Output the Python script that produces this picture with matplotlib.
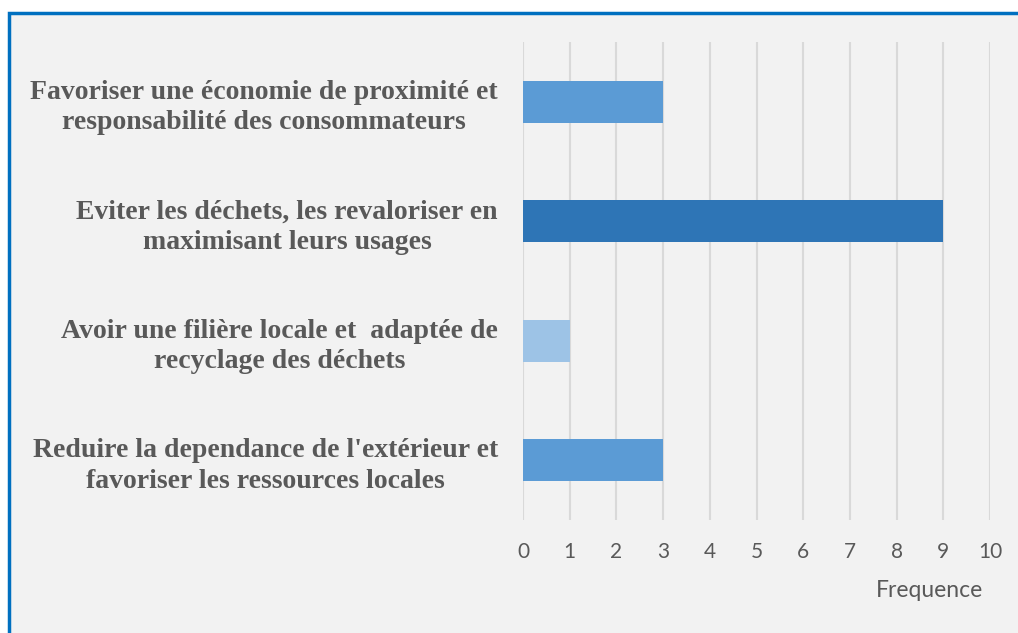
import matplotlib.pyplot as plt
from matplotlib.patches import Rectangle

# data (bottom to top as drawn)
labels = [
    "Reduire la dependance de l'extérieur et\nfavoriser les ressources locales",
    "Avoir une filière locale et  adaptée de\nrecyclage des déchets",
    "Eviter les déchets, les revaloriser en\nmaximisant leurs usages",
    "Favoriser une économie de proximité et\nresponsabilité des consommateurs",
]
values = [3, 1, 9, 3]
colors = ['#5B9BD5', '#9DC3E6', '#2E75B6', '#5B9BD5']
xticks = list(range(0, 11))

fig = plt.figure(figsize=(10.18, 6.33), dpi=100)
fig.patch.set_facecolor('white')
# chart area background + blue frame
fig.patches.append(Rectangle((9 / 1018, -0.05), 1.1, 1 - 13 / 633 + 0.05,
                             transform=fig.transFigure, facecolor='#F2F2F2',
                             edgecolor='#0070C0', linewidth=2.5, zorder=-10))

ax = fig.add_axes([523 / 1018, 1 - 520 / 633, (990 - 523) / 1018, (520 - 42) / 633])
ax.set_facecolor('none')
ax.barh(range(len(values)), values, height=0.35, color=colors, zorder=3)
ax.set_xlim(0, 10)
ax.set_ylim(-0.5, len(values) - 0.5)
ax.set_xticks(xticks)
ax.set_xticklabels([str(t) for t in xticks], family='Lato', fontsize=15, color='#595959')
ax.set_yticks(range(len(values)))
ax.set_yticklabels(labels, family='Liberation Serif', fontweight='bold',
                   fontsize=20, color='#595959', multialignment='center',
                   linespacing=1.3)
ax.tick_params(axis='y', length=0, pad=18)
ax.tick_params(axis='x', length=0, pad=16)
ax.grid(axis='x', color='#D9D9D9', linewidth=1.5, zorder=0)
for s in ax.spines.values():
    s.set_visible(False)
ax.set_xlabel('Frequence', family='Lato', fontsize=16.5, color='#595959')
ax.xaxis.set_label_coords((929 - 523) / (990 - 523), -0.125)

fig.savefig('out.png', dpi=100)
